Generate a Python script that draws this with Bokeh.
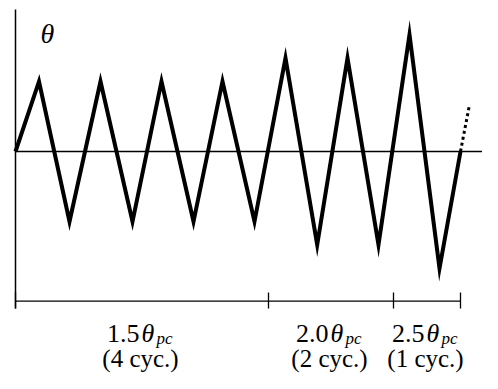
from bokeh.plotting import figure
from bokeh.models import Range1d
from bokeh.core.properties import value
from bokeh.embed import file_html
from bokeh.resources import INLINE

# ---- data (time in arbitrary units, rotation in multiples of theta_pc) ----
t = [0, 23.5, 54, 85, 117, 146, 178, 207, 239, 270, 301.7, 332, 363, 394, 424, 445]
theta = [0, 1.5, -1.5, 1.5, -1.5, 1.5, -1.5, 1.5, -1.5, 2.0, -2.0, 2.0, -2.0, 2.5, -2.5, 0]
t_cont = [445, 454]
theta_cont = [0, 1.0]
stage_bounds = [0, 253, 378, 445]
stage_amp = ["1.5", "2.0", "2.5"]
stage_cycles = ["(4 cyc.)", "(2 cyc.)", "(1 cyc.)"]

PX = 46.7  # pixels per unit of theta_pc
def dy(px):
    return px / PX

FONT = value("Liberation Serif")

p = figure(width=482, height=373, output_backend="svg", toolbar_location=None,
           x_range=Range1d(-15, 467), y_range=Range1d(-dy(222), dy(151)),
           x_axis_type=None, y_axis_type=None, min_border=0,
           outline_line_color=None)
p.xgrid.visible = False
p.ygrid.visible = False

# axes
p.segment(x0=[0], y0=[dy(142)], x1=[0], y1=[-dy(157)], line_color="black", line_width=1.5)
p.segment(x0=[0], y0=[0], x1=[467], y1=[0], line_color="black", line_width=1.3)

# dimension line with ticks
p.segment(x0=[stage_bounds[0]], y0=[-dy(149.7)], x1=[stage_bounds[-1]], y1=[-dy(149.7)],
          line_color="black", line_width=1.3)
p.segment(x0=stage_bounds, y0=[-dy(141)] * len(stage_bounds), x1=stage_bounds,
          y1=[-dy(157)] * len(stage_bounds), line_color="black", line_width=1.3)

# loading history
p.line(t, theta, line_color="black", line_width=4, line_join="miter")
p.line(t_cont, theta_cont, line_color="black", line_width=3, line_dash="3 3")

# y label
p.text(x=[25], y=[dy(118)], text=["θ"], text_font=FONT, text_font_style="italic",
       text_font_size="28px", text_baseline="alphabetic", text_align="left", text_color="black")

# stage labels
centers = [(stage_bounds[i] + stage_bounds[i + 1]) / 2 for i in range(len(stage_amp))]
cx = [c - 1.5 for c in centers]
p.text(x=[c - 1 for c in cx], y=[-dy(182)] * 3, text=stage_amp, text_font=FONT,
       text_font_size="26px", text_baseline="alphabetic", text_align="right", text_color="black")
p.text(x=[c + 1 for c in cx], y=[-dy(182)] * 3, text=["θ"] * 3, text_font=FONT,
       text_font_style="italic", text_font_size="26px", text_baseline="alphabetic",
       text_align="left", text_color="black")
p.text(x=[c + 16 for c in cx], y=[-dy(187)] * 3, text=["pc"] * 3, text_font=FONT,
       text_font_style="italic", text_font_size="17px", text_baseline="alphabetic",
       text_align="left", text_color="black")
p.text(x=cx, y=[-dy(207)] * 3, text=stage_cycles, text_font=FONT,
       text_font_size="25px", text_baseline="alphabetic", text_align="center", text_color="black")

open("out.html", "w").write(file_html(p, INLINE))
